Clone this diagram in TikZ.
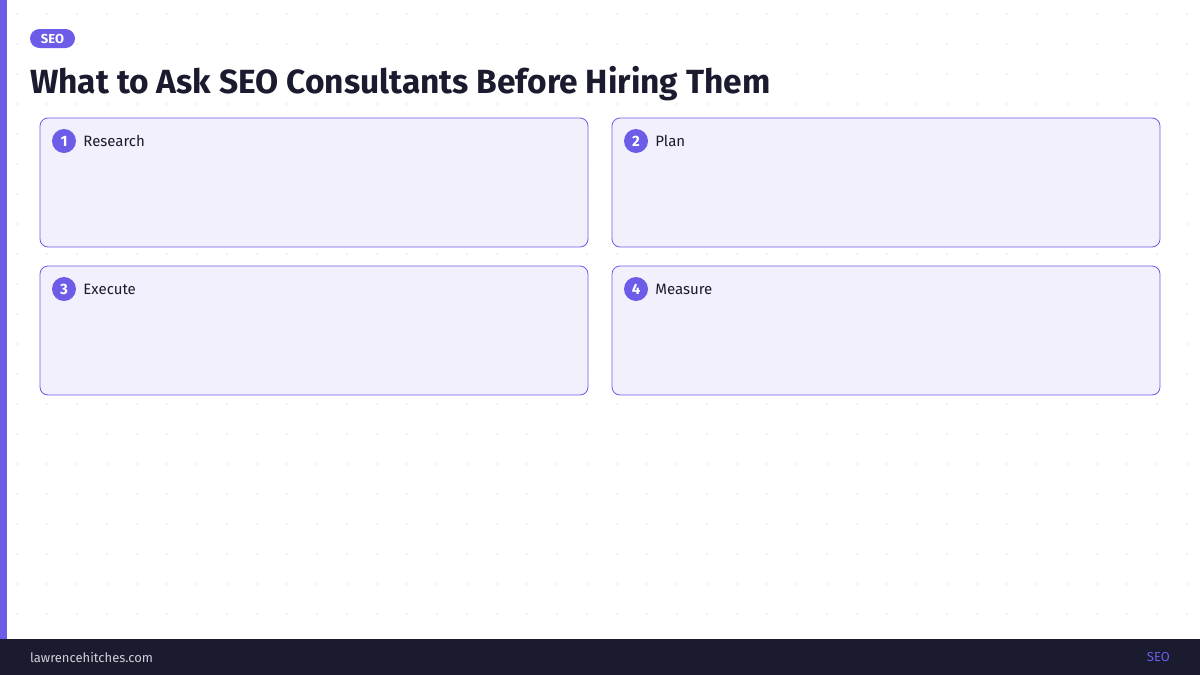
\documentclass[tikz,border=0pt]{standalone}
\usepackage{fontspec}
\setmainfont{Fira Sans}
\usetikzlibrary{positioning}

\definecolor{brand}{HTML}{6C5CE7}
\definecolor{ink}{HTML}{1A1B2E}
\definecolor{cardbg}{HTML}{F2F0FD}
\definecolor{dotc}{HTML}{EEEEF4}
\definecolor{footgray}{HTML}{D0D0DA}

\tikzset{
  card/.style={draw=brand, line width=0.8pt, fill=cardbg, rounded corners=8pt},
  badge/.style={circle, fill=brand, minimum size=24pt, inner sep=0pt,
    text=white, font=\bfseries\fontsize{15}{15}\selectfont},
  cardlabel/.style={right=7pt of #1, anchor=west, inner sep=0pt, text=ink,
    font=\fontsize{15}{15}\selectfont},
}

\begin{document}
\begin{tikzpicture}[x=1pt,y=-1pt]
\useasboundingbox (0,0) rectangle (1200,675);
\fill[white] (0,0) rectangle (1200,675);

% dotted backdrop
\foreach \i in {0,...,39} {
  \foreach \j in {0,...,20} {
    \fill[dotc] (17+30*\i,14+30*\j) circle (1.1pt);
  }
}

\fill[brand] (0,0) rectangle (7,639);
\fill[ink] (0,639) rectangle (1200,675);

% header
\node[fill=brand, rounded corners=9.5pt, minimum width=45pt, minimum height=19pt,
  inner sep=0pt, text=white, font=\bfseries\fontsize{13}{13}\selectfont]
  (tag) at (52.5,38.5) {SEO};
\node[anchor=base west, inner sep=0pt, text=ink,
  font=\bfseries\fontsize{33.5}{33.5}\selectfont] (title) at (30,93)
  {What to Ask SEO Consultants Before Hiring Them};

% cards
\draw[card] (40,118) rectangle (588,247);
\draw[card] (612,118) rectangle (1160,247);
\draw[card] (40,266) rectangle (588,395);
\draw[card] (612,266) rectangle (1160,395);

\node[badge] (b1) at (64,141) {1};
\node[cardlabel=b1] (l1) {Research};
\node[badge] (b2) at (636,141) {2};
\node[cardlabel=b2] (l2) {Plan};
\node[badge] (b3) at (64,289) {3};
\node[cardlabel=b3] (l3) {Execute};
\node[badge] (b4) at (636,289) {4};
\node[cardlabel=b4] (l4) {Measure};

% footer
\node[anchor=west, inner sep=0pt, text=footgray, font=\fontsize{13}{13}\selectfont]
  (site) at (30,657) {lawrencehitches.com};
\node[anchor=east, inner sep=0pt, text=brand, font=\fontsize{13}{13}\selectfont]
  (foottag) at (1170,657) {SEO};
\end{tikzpicture}
\end{document}
